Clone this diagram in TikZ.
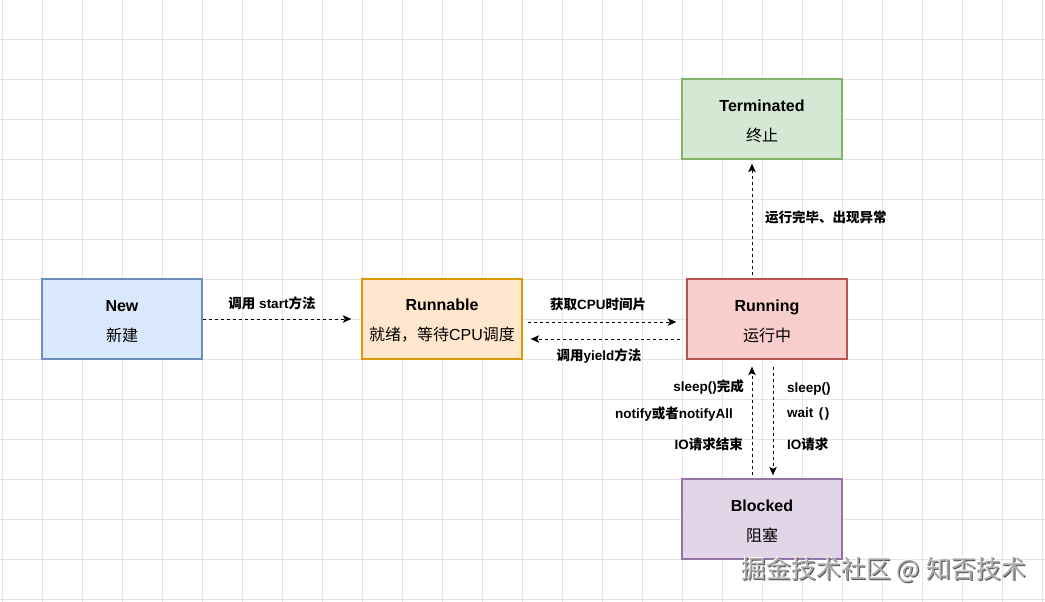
\documentclass[tikz,border=0pt]{standalone}
\usepackage{fontspec}
\setmainfont{Liberation Sans}
\newfontfamily\cjk{Noto Sans CJK SC}
\usetikzlibrary{arrows.meta}
\newcommand\zhtxt[1]{{\cjk #1}}
\newcommand\tstrut{\rule{0pt}{15.5pt}}
\definecolor{gridc}{HTML}{E4E4E4}
\definecolor{bluef}{HTML}{DAE8FC}\definecolor{blued}{HTML}{6C8EBF}
\definecolor{orangef}{HTML}{FFE6CC}\definecolor{oranged}{HTML}{D79B00}
\definecolor{redf}{HTML}{F8CECC}\definecolor{redd}{HTML}{B85450}
\definecolor{greenf}{HTML}{D5E8D4}\definecolor{greend}{HTML}{82B366}
\definecolor{purplef}{HTML}{E1D5E7}\definecolor{purpled}{HTML}{9673A6}
\definecolor{wmgray}{HTML}{A8A8A8}\definecolor{wmdark}{HTML}{555555}
\begin{document}
\begin{tikzpicture}[x=1pt,y=-1pt,
  box/.style={draw, line width=1.3pt, minimum width=160pt, minimum height=80pt,
    inner sep=0pt, align=center, font=\fontsize{16}{30}\selectfont},
  arr/.style={dash pattern=on 3pt off 3pt, line width=0.9pt,
    -{Stealth[length=8.5pt,width=7.5pt,inset=2pt]}},
  lbl/.style={font=\bfseries\fontsize{13.5}{16}\selectfont, inner sep=0pt},
  wm/.style={font=\cjk\fontsize{25}{28}\selectfont, inner sep=0pt}]
\useasboundingbox (0,0) rectangle (1045,602);
\fill[white] (0,0) rectangle (1045,602);
\foreach \i in {0,...,26} \draw[gridc, line width=0.8pt] (2+40*\i,0) -- (2+40*\i,602);
\foreach \j in {0,...,14} \draw[gridc, line width=0.8pt] (0,39+40*\j) -- (1045,39+40*\j);

\node[box, fill=bluef, draw=blued] (new) at (122,319) {\tstrut{\bfseries New}\\\zhtxt{新建}};
\node[box, fill=orangef, draw=oranged] (runnable) at (442,319) {\tstrut{\bfseries Runnable}\\\zhtxt{就绪，等待}CPU\zhtxt{调度}};
\node[box, fill=redf, draw=redd] (running) at (767,319) {\tstrut{\bfseries Running}\\\zhtxt{运行中}};
\node[box, fill=greenf, draw=greend] (terminated) at (762,119) {\tstrut{\bfseries Terminated}\\\zhtxt{终止}};
\node[box, fill=purplef, draw=purpled] (blocked) at (762,519) {\tstrut{\bfseries Blocked}\\\zhtxt{阻塞}};

\draw[arr] (new.east) -- ([xshift=-10pt]runnable.west);
\draw[arr] ([xshift=5pt,yshift=-3pt]runnable.east) -- ([xshift=-10pt,yshift=-3pt]running.west);
\draw[arr] ([xshift=-6pt,yshift=-20pt]running.west) -- ([xshift=8pt,yshift=-20pt]runnable.east);
\draw[arr] ([xshift=-15pt,yshift=3pt]running.north) -- ([xshift=-10pt,yshift=-4pt]terminated.south);
\draw[arr] ([xshift=-10pt,yshift=3pt]blocked.north) -- ([xshift=-15pt,yshift=-7pt]running.south);
\draw[arr] ([xshift=6pt,yshift=-7pt]running.south) -- ([xshift=11pt,yshift=3pt]blocked.north);

\node[lbl] (lstart) at (272,303) {\zhtxt{调用} start\zhtxt{方法}};
\node[lbl] (lcpu) at (598,304) {\zhtxt{获取}CPU\zhtxt{时间片}};
\node[lbl] (lyield) at (599,356) {\zhtxt{调用}yield\zhtxt{方法}};
\node[lbl, anchor=west] (lterm) at (765,217) {\zhtxt{运行完毕、出现异常}};
\node[lbl, anchor=east] (lsd) at (744,387) {sleep()\zhtxt{完成}};
\node[lbl, anchor=east] (lnot) at (733,414) {notify\zhtxt{或者}notifyAll};
\node[lbl, anchor=east] (lioe) at (743,444) {IO\zhtxt{请求结束}};
\node[lbl, anchor=west] (lsl) at (787,389) {sleep()};
\node[lbl, anchor=west] (lwait) at (787,414) {wait\hspace{5.5pt}(\hspace{1.5pt})};
\node[lbl, anchor=west] (lio) at (787,444) {IO\zhtxt{请求}};

\node[wm, text=wmdark] (wmshadow) at (884.8,570.8) {掘金技术社区 @ 知否技术};
\node[wm, text=white] (wmhi) at (882.8,568.8) {掘金技术社区 @ 知否技术};
\node[wm, text=wmgray] (wmark) at (883.8,569.8) {掘金技术社区 @ 知否技术};
\end{tikzpicture}
\end{document}
